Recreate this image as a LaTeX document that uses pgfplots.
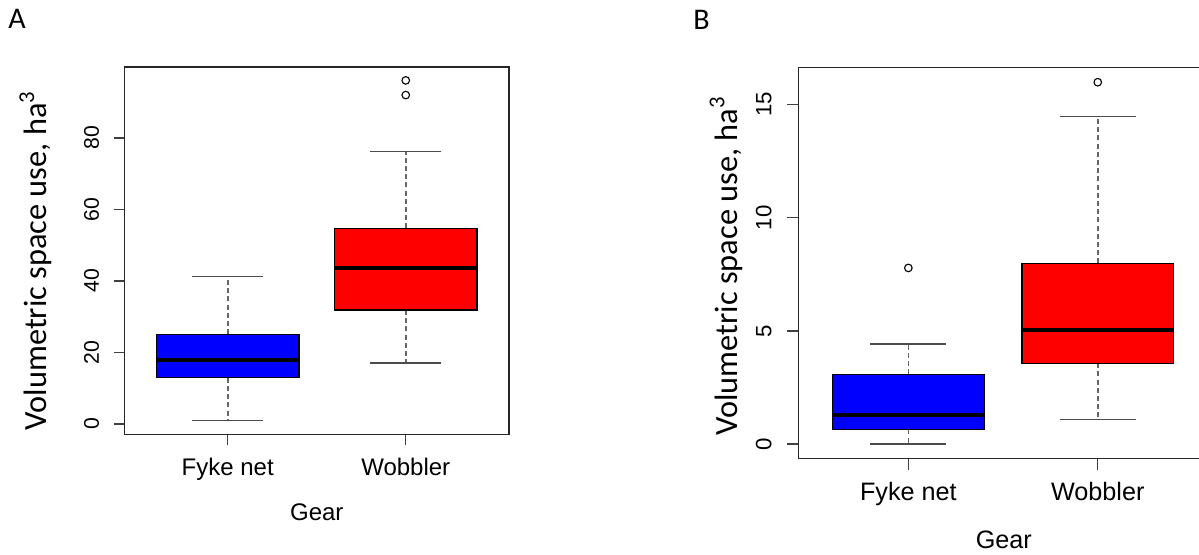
\documentclass[border=0pt]{standalone}
\usepackage{pgfplots}
\pgfplotsset{compat=1.18}
\usepgfplotslibrary{statistics}
\usepackage{fontspec}
\setmainfont{Liberation Sans}
\newfontfamily\calibri{Carlito}
\definecolor{wgray}{gray}{0.3}
\definecolor{dgray}{gray}{0.4}
\pgfplotsset{
  boxplot/draw/lower whisker/.code={%
    \draw[dgray, line width=0.85pt, dash pattern=on 2.5pt off 1.6pt]
      (boxplot box cs:\pgfplotsboxplotvalue{lower quartile},0.5) --
      (boxplot box cs:\pgfplotsboxplotvalue{lower whisker},0.5);
    \draw[wgray, line width=0.7pt]
      (boxplot whisker cs:\pgfplotsboxplotvalue{lower whisker},0) --
      (boxplot whisker cs:\pgfplotsboxplotvalue{lower whisker},1);
  },
  boxplot/draw/upper whisker/.code={%
    \draw[dgray, line width=0.85pt, dash pattern=on 2.5pt off 1.6pt]
      (boxplot box cs:\pgfplotsboxplotvalue{upper quartile},0.5) --
      (boxplot box cs:\pgfplotsboxplotvalue{upper whisker},0.5);
    \draw[wgray, line width=0.7pt]
      (boxplot whisker cs:\pgfplotsboxplotvalue{upper whisker},0) --
      (boxplot whisker cs:\pgfplotsboxplotvalue{upper whisker},1);
  },
  rbox/.style={
    boxplot/draw direction=y,
    boxplot/box extend=0.8,
    boxplot/whisker extend=0.4,
    boxplot/every median/.style={line width=2pt, black},
    boxplot/every box/.style={fill=#1, draw=black, line width=0.6pt},
    mark=o, mark size=1.9pt, mark options={black, line width=0.55pt, fill=none},
    draw=black,
  },
  raxis/.style={
    scale only axis,
    anchor=north west,
    xmin=0.42, xmax=2.58,
    xtick={1,2}, xticklabels={Fyke net, Wobbler},
    tick pos=left, tick align=outside,
    major tick length=#1,
    axis line style={line width=0.7pt, black!85},
    tick style={line width=0.7pt, black!75},
    /pgf/number format/assume math mode=true,
    yticklabel style={rotate=90, anchor=south, inner sep=0pt},
    xticklabel style={anchor=north, inner sep=0pt},
  },
}
\begin{document}
\begin{tikzpicture}
% Panel A
\begin{axis}[raxis=5.5pt,
  at={(62.25pt,-33.4pt)}, width=192.25pt, height=183.75pt,
  ymin=-2.9, ymax=99.9, ytick={0,20,40,60,80},
  yticklabel shift=7pt, xticklabel shift=6pt,
  yticklabel style={font=\fontsize{10.6}{12}\selectfont},
  xticklabel style={font=\fontsize{12}{14}\selectfont},
]
\addplot[rbox=blue, boxplot prepared={draw position=1,
  lower whisker=1.0, lower quartile=12.9, median=17.8,
  upper quartile=25.1, upper whisker=41.3}] coordinates {};
\addplot[rbox=red, boxplot prepared={draw position=2,
  lower whisker=17.1, lower quartile=31.9, median=43.6,
  upper quartile=54.7, upper whisker=76.2}] coordinates {(0,92.0) (0,96.1)};
\end{axis}
% Panel B
\begin{axis}[raxis=5.85pt,
  at={(399.25pt,-33.75pt)}, width=204.55pt, height=195.45pt,
  ymin=-0.64, ymax=16.64, ytick={0,5,10,15},
  yticklabel shift=7.45pt, xticklabel shift=6pt,
  yticklabel style={font=\fontsize{11.1}{13}\selectfont},
  xticklabel style={font=\fontsize{12.6}{15}\selectfont},
]
\addplot[rbox=blue, boxplot prepared={draw position=1,
  lower whisker=0.0, lower quartile=0.64, median=1.26,
  upper quartile=3.07, upper whisker=4.42}] coordinates {(0,7.78)};
\addplot[rbox=red, boxplot prepared={draw position=2,
  lower whisker=1.09, lower quartile=3.57, median=5.02,
  upper quartile=7.98, upper whisker=14.48}] coordinates {(0,15.99)};
\end{axis}
% labels
\node[anchor=base west, inner sep=0pt, font=\calibri\fontsize{15}{18}\selectfont] at (4pt,-14.15pt) {A};
\node[anchor=base west, inner sep=0pt, font=\calibri\fontsize{15}{18}\selectfont] at (346.5pt,-14.5pt) {B};
\node[rotate=90, anchor=base, inner sep=0pt, font=\calibri\fontsize{16.2}{19}\selectfont] at (23.35pt,-130.25pt) {Volumetric space use, ha\textsuperscript{3}};
\node[rotate=90, anchor=base, inner sep=0pt, font=\calibri\fontsize{16.2}{19}\selectfont] at (368.5pt,-133pt) {Volumetric space use, ha\textsuperscript{3}};
\node[anchor=north, inner sep=0pt, font=\fontsize{12}{14}\selectfont] at (158.4pt,-251.5pt) {Gear};
\node[anchor=north, inner sep=0pt, font=\fontsize{12.6}{15}\selectfont] at (501.9pt,-265pt) {Gear};
\pgfresetboundingbox
\path[use as bounding box] (0,0) rectangle (599.5pt,-277pt);
\end{tikzpicture}
\end{document}
